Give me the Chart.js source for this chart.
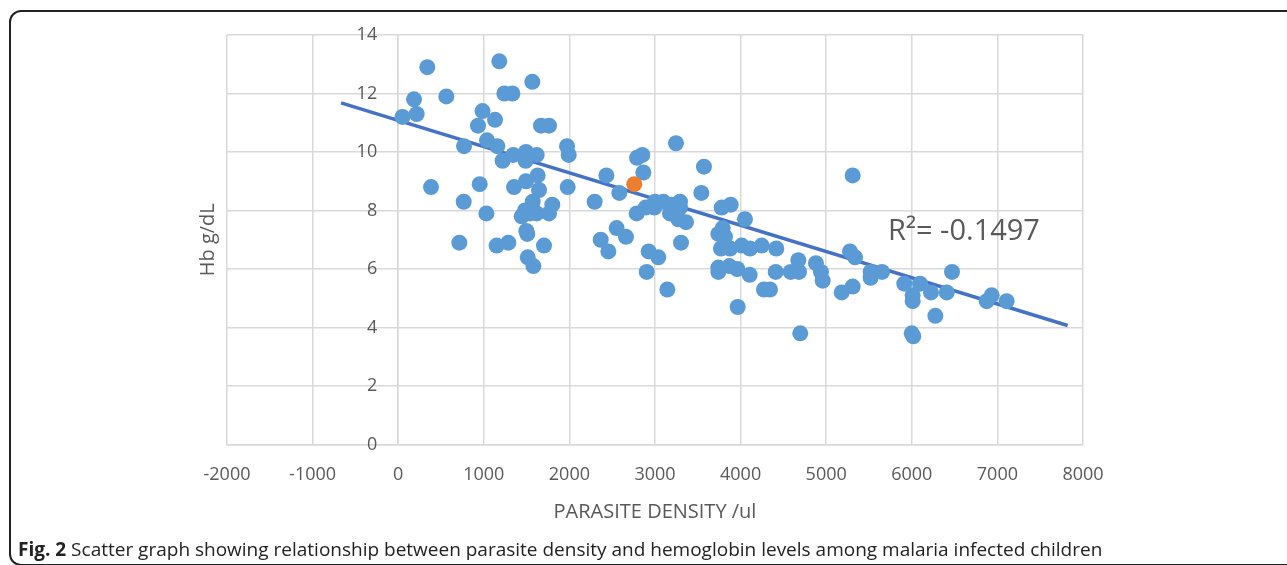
<!DOCTYPE html>
<html>
<head>
<meta charset="utf-8">
<script src="https://cdn.jsdelivr.net/npm/chart.js@4.4.1/dist/chart.umd.min.js"></script>
<style>
  html, body { margin: 0; padding: 0; background: #fff; }
  body { width: 1287px; height: 565px; position: relative; overflow: hidden; font-family: "Open Sans", sans-serif; }
  #frame { position: absolute; left: 9px; top: 10px; width: 1320px; height: 552px; border: 2px solid #222; border-radius: 12px; }
  #chart { position: absolute; left: 0; top: 0; }
  #caption { position: absolute; left: 18px; top: 536px; font-size: 19px; color: #222; white-space: nowrap; }
</style>
</head>
<body>
<div id="frame"></div>
<canvas id="chart" width="1287" height="565"></canvas>
<div id="caption"><b>Fig. 2</b> Scatter graph showing relationship between parasite density and hemoglobin levels among malaria infected children</div>
<script>
// values: parasite density (/ul) and Hb (g/dL)
var densityX = [50, 185, 216, 340, 383, 562, 769, 765, 714, 952, 985, 932,
  1030, 1037, 1131, 1158, 1181, 1240, 1334, 1220, 1345, 1353, 1150, 1286, 1493, 1489,
  1618, 1567, 1493, 1629, 1645, 1571, 1800, 1481, 1443, 1540, 1618, 1762, 1668, 1762,
  1497, 1508, 1703, 1513, 1579, 1972, 1992, 1980,
  2295, 2432, 2583, 2366, 2455, 2552, 2661, 2790, 2852, 2864, 2786, 2891, 2992, 3000,
  2926, 2903, 3039,
  3097, 3195, 3292, 3292, 3175, 3272, 3362, 3304, 3144, 3245, 3572, 3541, 3779, 3884,
  3740, 3791, 3818, 3771, 3876, 3740, 3740, 3868, 3961, 3966,
  4051, 4013, 4110, 4246, 4417, 4106, 4273, 4343, 4410, 4585, 4682, 4674, 4880, 4939,
  4959, 4697, 5181, 5309, 5309, 5278, 5337, 5519, 5519, 5652, 5912, 6010, 6010, 6096,
  6224, 6275, 6408, 6470, 5999, 6017, 6875, 6933, 7108];
var hbY = [11.2, 11.8, 11.3, 12.9, 8.8, 11.9, 10.2, 8.3, 6.9, 8.9, 11.4, 10.9,
  7.9, 10.4, 11.1, 10.2, 13.1, 12.0, 12.0, 9.7, 9.9, 8.8, 6.8, 6.9, 10.0, 9.7,
  9.9, 12.4, 9.0, 9.2, 8.7, 8.3, 8.2, 8.0, 7.8, 7.9, 7.9, 7.9, 10.9, 10.9,
  7.3, 7.2, 6.8, 6.4, 6.1, 10.2, 9.9, 8.8,
  8.3, 9.2, 8.6, 7.0, 6.6, 7.4, 7.1, 9.8, 9.9, 9.3, 7.9, 8.1, 8.1, 8.3,
  6.6, 5.9, 6.4,
  8.3, 8.2, 8.3, 8.1, 7.9, 7.7, 7.6, 6.9, 5.3, 10.3, 9.5, 8.6, 8.1, 8.2,
  7.2, 7.4, 7.1, 6.7, 6.7, 6.05, 5.9, 6.1, 6.0, 4.7,
  7.7, 6.8, 6.7, 6.8, 6.7, 5.8, 5.3, 5.3, 5.9, 5.9, 5.9, 6.3, 6.2, 5.9,
  5.6, 3.8, 5.2, 5.4, 9.2, 6.6, 6.4, 5.9, 5.7, 5.9, 5.5, 5.1, 4.9, 5.5,
  5.2, 4.4, 5.2, 5.9, 3.8, 3.7, 4.9, 5.1, 4.9];
var highlightX = [2758];
var highlightY = [8.9];
var trendX = [-668, 7821];
var trendY = [11.68, 4.07];
var xTicks = [-2000, 8000, 1000];
var yTicks = [0, 14, 2];
var rSquaredLabel = 'R\u00b2= -0.1497';

function toPoints(xs, ys) {
    var pts = [];
    for (var i = 0; i < xs.length; i++) {
        pts.push({x: xs[i], y: ys[i]});
    }
    return pts;
}

var textColor = '#595959';
var gridColor = '#d9d9d9';
var fontFamily = '"Open Sans", sans-serif';

// y tick labels sit beside the x=0 axis, plus the axis title and R² note
var extraText = {
    id: 'extraText',
    afterDraw: function(chart) {
        var ctx = chart.ctx;
        var xs = chart.scales.x, ys = chart.scales.y;
        var x0 = xs.getPixelForValue(0);
        ctx.save();
        ctx.fillStyle = textColor;
        ctx.font = '18px ' + fontFamily;
        ctx.textAlign = 'right';
        ctx.textBaseline = 'middle';
        ys.ticks.forEach(function(t) {
            ctx.fillText(String(t.value), x0 - 21, ys.getPixelForValue(t.value));
        });

        ctx.font = '20px ' + fontFamily;
        ctx.textAlign = 'center';
        ctx.translate(208, (chart.chartArea.top + chart.chartArea.bottom) / 2);
        ctx.rotate(-Math.PI / 2);
        ctx.fillText('Hb g/dL', 0, 0);
        ctx.restore();

        ctx.save();
        ctx.fillStyle = textColor;
        ctx.font = '29px ' + fontFamily;
        ctx.textAlign = 'left';
        ctx.textBaseline = 'alphabetic';
        ctx.fillText(rSquaredLabel, 888, 240);
        ctx.restore();
    }
};

var ctx = document.getElementById('chart').getContext('2d');
var chart = new Chart(ctx, {
    type: 'scatter',
    data: {
        datasets: [{
            label: 'highlight',
            data: toPoints(highlightX, highlightY),
            backgroundColor: '#ED7D31',
            borderWidth: 0,
            pointRadius: 8,
            order: 0
        }, {
            label: 'Hb',
            data: toPoints(densityX, hbY),
            backgroundColor: '#5B9BD5',
            borderWidth: 0,
            pointRadius: 8,
            order: 1
        }, {
            label: 'trend',
            type: 'line',
            data: toPoints(trendX, trendY),
            borderColor: '#4472C4',
            borderWidth: 3.5,
            pointRadius: 0,
            fill: false,
            order: 2
        }]
    },
    options: {
        responsive: false,
        animation: false,
        devicePixelRatio: 1,
        layout: {
            padding: {left: 227, right: 204, top: 35, bottom: 0}
        },
        plugins: {
            legend: {display: false},
            tooltip: {enabled: false}
        },
        scales: {
            x: {
                type: 'linear',
                position: 'bottom',
                min: xTicks[0],
                max: xTicks[1],
                afterFit: function(scale) { scale.height = 120.5; },
                ticks: {
                    stepSize: xTicks[2],
                    color: textColor,
                    font: {family: fontFamily, size: 18},
                    padding: 20,
                    maxRotation: 0,
                    callback: function(v) { return String(v); }
                },
                grid: {color: gridColor, lineWidth: 1.5, drawTicks: false},
                border: {color: gridColor, width: 1.5},
                title: {
                    display: true,
                    text: 'PARASITE DENSITY /ul',
                    color: textColor,
                    font: {family: fontFamily, size: 20},
                    padding: {top: 0, bottom: 41}
                }
            },
            y: {
                type: 'linear',
                position: {x: 0},
                min: yTicks[0],
                max: yTicks[1],
                ticks: {stepSize: yTicks[2], display: false},
                grid: {color: gridColor, lineWidth: 1.5, drawTicks: false},
                border: {color: gridColor, width: 1.5}
            }
        }
    },
    plugins: [extraText]
});
</script>
</body>
</html>
